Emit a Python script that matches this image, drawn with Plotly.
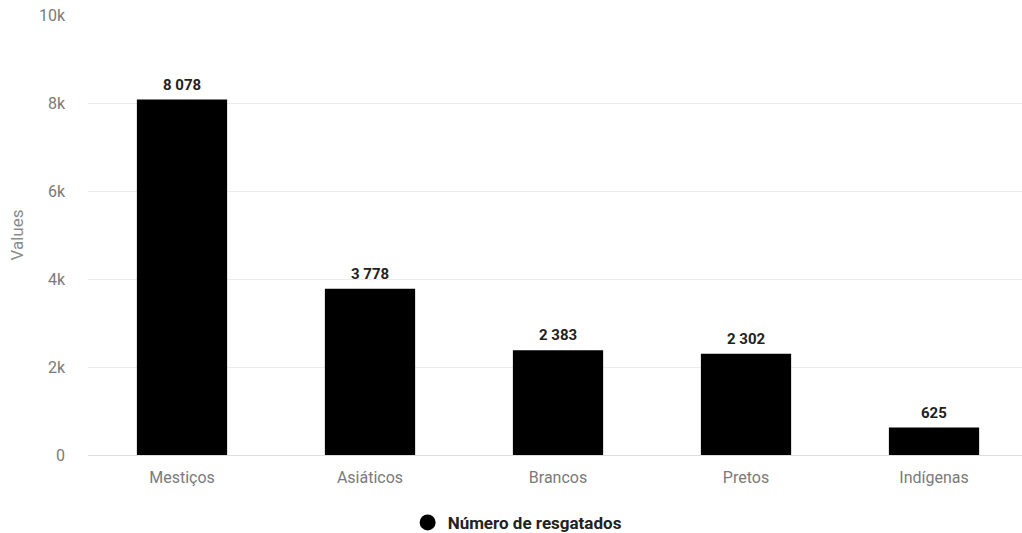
import plotly.graph_objects as go

categories = ["Mestiços", "Asiáticos", "Brancos", "Pretos", "Indígenas"]
values = [8078, 3778, 2383, 2302, 625]
series_name = "Número de resgatados"
y_ticks = [0, 2000, 4000, 6000, 8000, 10000]
y_tick_labels = ["0", "2k", "4k", "6k", "8k", "10k"]

fig = go.Figure()
fig.add_trace(go.Bar(
    x=categories, y=values, name=series_name,
    marker=dict(color="#000000", line=dict(width=0)),
    showlegend=False,
))
fig.add_trace(go.Scatter(
    x=[None], y=[None], mode="markers", name=series_name,
    marker=dict(color="#000000", size=16, symbol="circle"),
))

for c, v in zip(categories, values):
    fig.add_annotation(
        x=c, y=v, text="<b>" + f"{v:,}".replace(",", " ") + "</b>",
        showarrow=False, yanchor="bottom", yshift=4,
        font=dict(family="Roboto", size=15, color="#222222"),
    )

fig.update_layout(
    width=1022, height=533,
    margin=dict(l=88, r=0, t=15, b=78),
    paper_bgcolor="white", plot_bgcolor="white",
    bargap=0.52,
    font=dict(family="Roboto", size=16, color="#777777"),
    showlegend=True,
    legend=dict(orientation="h", xref="container", yref="container",
                x=0.506, xanchor="center", y=0.019, yanchor="middle",
                font=dict(family="Roboto", size=17, color="#222222", weight="bold")),
    xaxis=dict(showgrid=False, ticks="", ticklabelstandoff=8, automargin=False,
               range=[-0.5, 4.468],
               tickfont=dict(family="Roboto", size=16, color="#7a7a7a"),
               showline=True, linecolor="#dddddd", linewidth=1),
    yaxis=dict(range=[0, 10000], tickvals=y_ticks, ticktext=y_tick_labels,
               showgrid=True, gridcolor="#ebebeb", zeroline=False,
               ticklabelstandoff=22, automargin=False,
               title=dict(text="Values", standoff=10,
                          font=dict(family="Roboto", size=17, color="#8a8a8a")),
               tickfont=dict(family="Roboto", size=16, color="#7a7a7a")),
)

fig.write_html("out.html", config={"displayModeBar": False},
               post_script="document.body.style.margin='0px';")
